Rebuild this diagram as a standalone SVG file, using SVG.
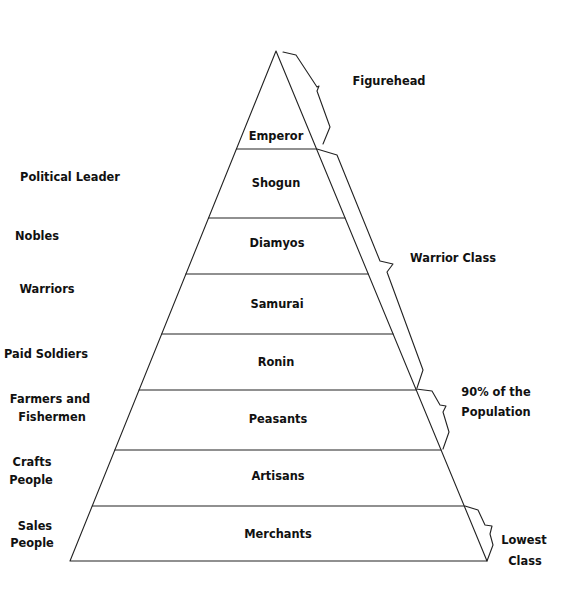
<svg xmlns="http://www.w3.org/2000/svg" width="564" height="596" viewBox="0 0 564 596">
<style>
text{font-family:"DejaVu Sans","Liberation Sans",sans-serif;font-weight:bold;font-size:11.4px;fill:#111;text-anchor:middle}
.ln{fill:none;stroke:#222;stroke-width:1.1;stroke-linejoin:round;stroke-linecap:round}
</style>
<rect width="564" height="596" fill="#fff"/>
<g id="pyramid">
<polygon class="ln" points="276,51 487,561 70,561"/>
</g>
<g id="tier-emperor"><line class="ln" x1="236.4" y1="149" x2="316.5" y2="149"/><text x="276" y="140">Emperor</text></g>
<g id="tier-shogun"><line class="ln" x1="208.5" y1="218" x2="345" y2="218"/><text x="276" y="187">Shogun</text></g>
<g id="tier-diamyos"><line class="ln" x1="185.9" y1="274" x2="368.3" y2="274"/><text x="277" y="247">Diamyos</text></g>
<g id="tier-samurai"><line class="ln" x1="161.7" y1="334" x2="393.1" y2="334"/><text x="277" y="308">Samurai</text></g>
<g id="tier-ronin"><line class="ln" x1="139.1" y1="390" x2="416.3" y2="390"/><text x="276" y="366">Ronin</text></g>
<g id="tier-peasants"><line class="ln" x1="114.9" y1="450" x2="441.1" y2="450"/><text x="278" y="423">Peasants</text></g>
<g id="tier-artisans"><line class="ln" x1="92.3" y1="506" x2="464.2" y2="506"/><text x="278" y="480">Artisans</text></g>
<g id="tier-merchants"><text x="278" y="538">Merchants</text></g>
<g id="left-labels">
<text x="70" y="181">Political Leader</text>
<text x="37" y="240">Nobles</text>
<text x="47" y="293">Warriors</text>
<text x="46" y="358">Paid Soldiers</text>
<text x="50" y="403">Farmers and</text>
<text x="52" y="421">Fishermen</text>
<text x="32" y="466">Crafts</text>
<text x="31" y="484">People</text>
<text x="35" y="530">Sales</text>
<text x="32" y="547">People</text>
</g>
<g id="braces">
<path class="ln" d="M283,52 L296,55 L317,87 L319,86 L317,91 L330,127 L323,144"/>
<path class="ln" d="M317,149 L337,155 L380,261 L393,264 L387,272 L423,370 L417,388"/>
<path class="ln" d="M416,389 L432,391 L440,405 L446,406 L443,412 L449,432 L443,449"/>
<path class="ln" d="M465,506 L478,510 L485,525 L492,526 L490,534 L493,545 L487,561"/>
</g>
<g id="right-labels">
<text x="389" y="85">Figurehead</text>
<text x="453" y="262">Warrior Class</text>
<text x="496" y="396">90% of the</text>
<text x="496" y="416">Population</text>
<text x="524" y="544">Lowest</text>
<text x="525" y="565">Class</text>
</g>
</svg>
